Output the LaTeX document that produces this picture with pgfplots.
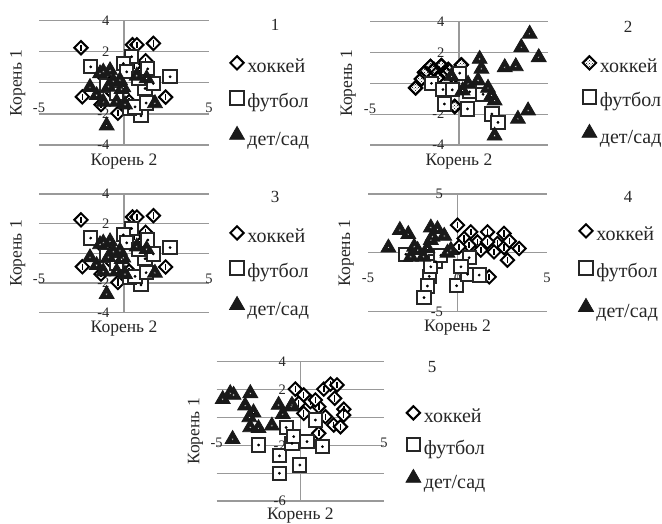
\documentclass[border=0pt]{standalone}
\usepackage{fontspec}
\setmainfont{Liberation Serif}
\usepackage{pgfplots}
\usepackage{pgfplotstable}
\pgfplotsset{compat=1.18}
\usetikzlibrary{patterns}

\newcommand\legfont{\fontsize{20}{22}\selectfont}

% ---------- data ----------
\pgfplotstableread{
x y
-2.53 2.26
0.50 2.45
0.76 2.45
1.73 2.54
1.27 1.42
-2.45 -0.90
2.45 -0.92
-1.35 -1.40
-0.36 -1.96
0.90 0.60
-0.80 -0.50
0.30 -1.20
1.50 0.20
-1.20 0.40
0.60 1.10
}\Ahk
\pgfplotstableread{
x y
-1.96 1.03
0.45 1.68
-0.04 1.25
0.16 0.71
1.24 -0.36
2.71 0.39
1.00 -2.12
0.30 -1.65
-1.02 -0.15
1.72 -0.04
0.84 0.28
-0.43 -0.68
1.40 0.90
0.65 -1.55
1.30 -1.30
}\Afb
\pgfplotstableread{
x y
-2.00 -0.28
-1.22 0.71
-0.82 0.80
-0.14 -0.40
-0.92 -0.26
-0.43 -1.23
0.06 -1.40
0.75 0.45
1.33 0.28
1.82 -1.32
-1.02 -2.75
-1.61 -0.80
-0.63 0.10
-1.22 -1.23
-0.24 0.17
-1.41 0.60
-0.04 -0.30
}\Ads
\pgfplotstableread{
x y
-2.44 -0.30
-1.93 0.71
-1.60 1.10
-0.99 1.15
-0.60 0.90
0.13 1.20
-1.18 0.39
-0.24 -1.50
-2.11 0.28
-0.80 0.71
-0.30 0.40
-1.40 0.90
}\Bhk
\pgfplotstableread{
x y
-1.55 0.00
-0.90 -0.40
-0.38 -0.42
0.04 0.66
-0.82 -1.34
0.48 -1.66
0.60 -0.55
1.35 -0.71
1.85 -1.99
2.19 -2.53
}\Bfb
\pgfplotstableread{
x y
3.97 3.21
3.50 2.34
4.48 1.69
1.16 1.58
2.57 1.04
3.19 1.10
1.26 0.94
-0.43 0.45
1.07 0.18
0.51 -0.04
0.20 -0.47
1.63 -0.30
1.82 -0.80
2.00 -1.12
3.88 -1.77
3.31 -2.31
2.00 -3.40
}\Bds
\pgfplotstableread{
x y
0.00 2.35
0.74 1.78
1.68 1.78
2.60 1.65
3.44 0.37
2.79 -0.62
1.77 -2.04
0.37 1.22
1.12 0.93
2.23 0.80
2.60 0.45
1.30 0.23
2.04 0.08
0.65 0.65
0.09 0.51
1.68 0.93
2.90 1.00
}\Dhk
\pgfplotstableread{
x y
-2.89 -0.12
-1.58 -2.00
-1.68 -2.82
-1.87 -3.80
-0.05 -2.80
0.65 -0.41
0.56 -1.82
1.21 -1.89
-1.21 -0.76
-1.49 -1.19
-0.93 -0.20
0.19 -1.19
}\Dfb
\pgfplotstableread{
x y
-3.86 0.44
-3.22 1.93
-2.75 1.58
-1.49 2.14
-1.12 2.00
-1.40 1.36
-0.74 1.43
-2.42 0.51
-2.61 -0.34
-1.91 -0.34
-1.68 0.37
-0.37 0.23
-0.56 0.00
-1.49 1.08
-2.23 0.23
}\Dds
\pgfplotstableread{
x y
-0.30 2.03
0.20 1.61
0.60 1.13
1.40 2.03
1.80 2.39
2.19 2.33
2.05 1.37
2.60 0.59
2.59 0.17
1.99 -0.55
2.40 -0.67
1.10 0.77
0.20 0.29
-0.10 1.01
1.50 0.05
1.10 -1.14
0.90 1.25
}\Ehk
\pgfplotstableread{
x y
-2.50 -1.98
-1.25 -2.76
-0.03 -3.42
-1.25 -4.01
-0.50 -1.86
0.40 -1.74
1.32 -2.10
0.90 -0.19
-0.85 -0.72
-0.40 -1.38
}\Efb
\pgfplotstableread{
x y
-4.64 1.31
-4.19 1.73
-3.99 1.61
-2.99 1.73
-3.30 0.85
-2.80 0.35
-3.00 -0.72
-2.50 -0.78
-1.70 -0.60
-1.30 0.89
-1.05 0.23
-0.55 0.77
-4.05 -1.56
-3.05 0.00
-0.50 0.89
}\Eds

\pgfplotsset{
  panel/.style={
    scale only axis,
    anchor=south west,
    axis x line=middle, axis y line=middle,
    axis line style={draw=gray!80, line width=1.2pt, -},
    xmin=-5, xmax=5, xtick={-5,0,5},
    ymajorgrids, grid style={draw=gray!80, line width=1.2pt},
    major tick length=0pt,
    /pgf/number format/assume math mode=true,
    tick label style={font=\fontsize{14.5}{14.5}\selectfont, text=black!85},
    xticklabel style={yshift=-17pt},
    yticklabel style={xshift=-11pt},
    xlabel={Корень 2}, ylabel={Корень 1},
    label style={font=\fontsize{17.5}{17.5}\selectfont, text=black!85},
    xlabel style={at={(axis description cs:0.5,0)}, anchor=north, yshift=-5pt},
    ylabel style={at={(axis description cs:-0.06,0.5)}, anchor=south, rotate=90},
    clip=false,
    legend entries={хоккей,футбол,дет/сад},
    legend style={draw=none, fill=none, inner sep=0pt, anchor=north west,
      font=\legfont, column sep=3pt,
      nodes={inner sep=0pt, text height=14pt, text depth=5pt, text=black!85}},
    legend cell align=left,
    legend image code/.code={\draw[##1] plot coordinates {(6pt,5.5pt)};},
  },
  hk/.style={only marks, mark=square*, mark size=4.7pt,
    mark options={rotate=45, fill=white, draw=black, line width=2pt}},
  hkw/.style={only marks, mark=square*, mark size=4.7pt,
    mark options={rotate=45, fill=white, draw=black, line width=2pt}, forget plot},
  hkp/.style={only marks, mark=square*, mark size=4.7pt,
    mark options={rotate=45, pattern=crosshatch dots, pattern color=black, draw=black, line width=2pt}},
  hkbar/.style={only marks, mark=|, mark size=3.2pt,
    mark options={draw=black, line width=1.6pt}, forget plot},
  fb/.style={only marks, mark=square*, mark size=6.6pt,
    mark options={fill=white, draw=black!85, line width=2pt}},
  fbdot/.style={only marks, mark=*, mark size=1.2pt,
    mark options={fill=black, draw=none}, forget plot},
  ds/.style={only marks, mark=triangle*, mark size=8.6pt,
    mark options={fill=black!90, draw=black!90, line width=0.8pt}},
  dsdot/.style={only marks, mark=*, mark size=1.2pt,
    mark options={fill=white, draw=none}, forget plot},
}

\begin{document}
\begin{tikzpicture}
\useasboundingbox (0pt,0pt) rectangle (662pt,524pt);

% ---- panel 1 ----
\begin{axis}[panel, at={(39pt,379pt)}, width=170pt, height=124.3pt,
  ymin=-4, ymax=4, ytick={-4,-2,0,2,4},
  legend style={at={(1.12,0.716)}, row sep=13.5pt}]
\addplot[hk] table {\Ahk};
\addplot[hkbar] table {\Ahk};
\addplot[fb] table {\Afb};
\addplot[fbdot] table {\Afb};
\addplot[ds] table {\Ads};
\addplot[dsdot] table {\Ads};
\end{axis}
\node[font=\fontsize{17}{17}\selectfont, text=black!85] at (275pt,499pt) {1};

% ---- panel 2 ----
\begin{axis}[panel, at={(370pt,379pt)}, width=178pt, height=123.3pt,
  ymin=-4, ymax=4, ytick={-4,-2,0,2,4}, xtick={-5,0},
  legend style={at={(1.19,0.722)}, row sep=12.5pt}]
\addplot[hkw] table {\Bhk};
\addplot[hkp] table {\Bhk};
\addplot[fb] table {\Bfb};
\addplot[fbdot] table {\Bfb};
\addplot[ds] table {\Bds};
\addplot[dsdot] table {\Bds};
\end{axis}
\node[font=\fontsize{17}{17}\selectfont, text=black!85] at (628pt,497pt) {2};

% ---- panel 3 ----
\begin{axis}[panel, at={(39pt,211.3pt)}, width=170pt, height=118.7pt,
  ymin=-4, ymax=4, ytick={-4,-2,0,2,4},
  legend style={at={(1.12,0.730)}, row sep=13.5pt}]
\addplot[hk] table {\Ahk};
\addplot[hkbar] table {\Ahk};
\addplot[fb] table {\Afb};
\addplot[fbdot] table {\Afb};
\addplot[ds] table {\Ads};
\addplot[dsdot] table {\Ads};
\end{axis}
\node[font=\fontsize{17}{17}\selectfont, text=black!85] at (275pt,327pt) {3};

% ---- panel 4 ----
\begin{axis}[panel, at={(368pt,212.3pt)}, width=179pt, height=117.7pt,
  ymin=-5, ymax=5, ytick={-5,0,5}, hide obscured x ticks=false,
  legend style={at={(1.175,0.745)}, row sep=15.5pt}]
\addplot[hk] table {\Dhk};
\addplot[hkbar] table {\Dhk};
\addplot[fb] table {\Dfb};
\addplot[fbdot] table {\Dfb};
\addplot[ds] table {\Dds};
\addplot[dsdot] table {\Dds};
\end{axis}
\node[font=\fontsize{17}{17}\selectfont, text=black!85] at (628pt,327pt) {4};

% ---- panel 5 ----
\begin{axis}[panel, at={(216.7pt,23pt)}, width=167.3pt, height=139.3pt,
  ymin=-6, ymax=4, ytick={-6,-4,-2,0,2,4},
  xlabel style={yshift=2pt},
  legend style={at={(1.13,0.682)}, row sep=10pt}]
\addplot[hk] table {\Ehk};
\addplot[hkbar] table {\Ehk};
\addplot[fb] table {\Efb};
\addplot[fbdot] table {\Efb};
\addplot[ds] table {\Eds};
\addplot[dsdot] table {\Eds};
\end{axis}
\node[font=\fontsize{17}{17}\selectfont, text=black!85] at (432pt,157pt) {5};
\end{tikzpicture}
\end{document}
